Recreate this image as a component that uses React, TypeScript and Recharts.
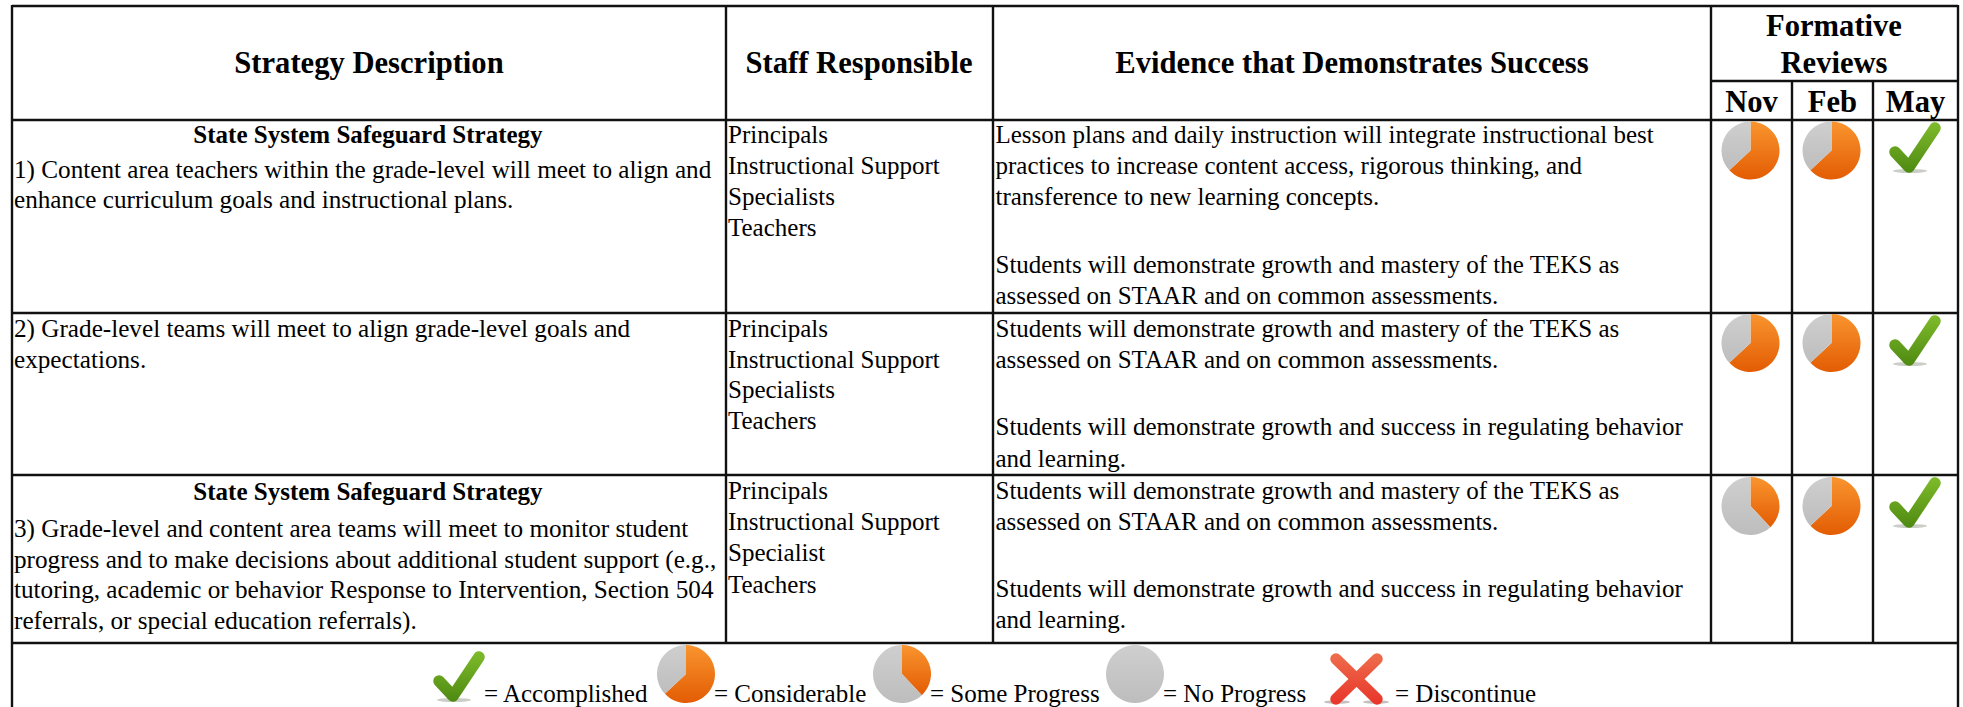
import React from "react";
import { PieChart, Pie, Cell } from "recharts";

const headerLabels = ["Strategy Description", "Staff Responsible", "Evidence that Demonstrates Success"];
const reviewHeaderLines = ["Formative", "Reviews"];
const reviewMonths = ["Nov", "Feb", "May"];
const safeguardTitle = "State System Safeguard Strategy";
const strategy1 = [
  "1) Content area teachers within the grade-level will meet to align and",
  "enhance curriculum goals and instructional plans.",
];
const strategy2 = ["2) Grade-level teams will meet to align grade-level goals and", "expectations."];
const strategy3 = [
  "3) Grade-level and content area teams will meet to monitor student",
  "progress and to make decisions about additional student support (e.g.,",
  "tutoring, academic or behavior Response to Intervention, Section 504",
  "referrals, or special education referrals).",
];
const staff12 = ["Principals", "Instructional Support", "Specialists", "Teachers"];
const staff3 = ["Principals", "Instructional Support", "Specialist", "Teachers"];
const evidence1 = [
  "Lesson plans and daily instruction will integrate instructional best",
  "practices to increase content access, rigorous thinking, and",
  "transference to new learning concepts.",
];
const evidenceMastery = ["Students will demonstrate growth and mastery of the TEKS as", "assessed on STAAR and on common assessments."];
const evidenceRegulating = ["Students will demonstrate growth and success in regulating behavior", "and learning."];

// percentage complete shown by each progress status
const progressByStatus: Record<string, number> = { considerable: 63, some: 38, none: 0 };
const novStatus = ["considerable", "considerable", "some"];
const febStatus = ["considerable", "considerable", "considerable"];
const mayStatus = ["accomplished", "accomplished", "accomplished"];
const legendLabels = ["= Accomplished", "= Considerable", "= Some Progress", "= No Progress", "= Discontinue"];

const FONT = "'Liberation Serif', 'Times New Roman', serif";
const W = 1963;
const H = 707;
const colX = [12, 726, 993, 1711, 1958];
const monthX = [1711, 1792, 1873, 1958];
const rowY = [6, 120, 313, 475, 643];
const pieXs = [1750.5, 1831.5];
const pieYs = [150.5, 343, 506];
const checkYs = [122, 315, 477];

const T = ({ x, y, s = 25, b = false, mid = false, children }: any) => (
  <text x={x} y={y} fontFamily={FONT} fontSize={s} fontWeight={b ? 700 : 400} fill="#000" textAnchor={mid ? "middle" : "start"}>
    {children}
  </text>
);

const Lines = ({ x, ys, lines, s = 25 }: { x: number; ys: number[]; lines: string[]; s?: number }) => (
  <>
    {lines.map((l, i) => (
      <T key={i} x={x} y={ys[i]} s={s}>
        {l}
      </T>
    ))}
  </>
);

const Check = ({ x, y }: { x: number; y: number }) => (
  <g transform={`translate(${x},${y})`}>
    <ellipse cx={21} cy={49} rx={17} ry={2} fill="#b9bdb4" opacity={0.75} />
    <path d="M6 30 L20 45 L46 6" fill="none" stroke="url(#checkGrad)" strokeWidth={11.5} strokeLinecap="round" strokeLinejoin="round" />
  </g>
);

const Cross = ({ x, y }: { x: number; y: number }) => (
  <g transform={`translate(${x},${y})`}>
    <ellipse cx={8} cy={48} rx={13} ry={1.8} fill="#b5b0ac" opacity={0.8} />
    <ellipse cx={47} cy={48} rx={13} ry={1.8} fill="#b5b0ac" opacity={0.8} />
    <path d="M7 5 L48 45 M48 5 L7 45" fill="none" stroke="url(#crossGrad)" strokeWidth={11.5} strokeLinecap="round" />
  </g>
);

const ProgressPie = (cx: number, cy: number, r: number, status: string, key: string) => {
  const done = progressByStatus[status];
  return (
    <Pie
      key={key}
      data={[
        { name: "done", value: done },
        { name: "left", value: 100 - done },
      ]}
      dataKey="value"
      cx={cx}
      cy={cy}
      innerRadius={0}
      outerRadius={r}
      startAngle={90}
      endAngle={-270}
      stroke="none"
      isAnimationActive={false}
      legendType="none"
    >
      <Cell fill="url(#orangeGrad)" />
      <Cell fill="url(#greyGrad)" />
    </Pie>
  );
};

export default function App() {
  const bodyY = { r1: [143, 174, 205, 236], r2: [337, 368, 398, 429], r3: [499, 530, 561, 593] };
  const pies: React.ReactNode[] = [];
  [novStatus, febStatus].forEach((col, c) =>
    col.forEach((st, r) => pies.push(ProgressPie(pieXs[c], pieYs[r], 29, st, `p${c}${r}`)))
  );
  pies.push(ProgressPie(686, 674, 29, "considerable", "lc"));
  pies.push(ProgressPie(902, 674, 29, "some", "ls"));
  pies.push(ProgressPie(1135, 674, 29, "none", "ln"));

  return (
    <div style={{ position: "absolute", left: 0, top: 0, width: W, height: H, overflow: "hidden", background: "#fff" }}>
      <svg width={W} height={H} style={{ position: "absolute", left: 0, top: 0 }}>
        <g stroke="#111" strokeWidth={2.4}>
          <line x1={colX[0]} x2={colX[4]} y1={rowY[0]} y2={rowY[0]} />
          {rowY.slice(1).map((y) => (
            <line key={y} x1={colX[0]} x2={colX[4]} y1={y} y2={y} />
          ))}
          <line x1={colX[3]} x2={colX[4]} y1={81} y2={81} />
          <line x1={colX[0]} x2={colX[0]} y1={5} y2={H} />
          <line x1={colX[4]} x2={colX[4]} y1={5} y2={H} />
          {colX.slice(1, 4).map((x) => (
            <line key={x} x1={x} x2={x} y1={rowY[0]} y2={rowY[4]} />
          ))}
          {monthX.slice(1, 3).map((x) => (
            <line key={x} x1={x} x2={x} y1={81} y2={rowY[4]} />
          ))}
        </g>
        <T x={369} y={73} s={30.6} b mid>{headerLabels[0]}</T>
        <T x={859} y={73} s={30.6} b mid>{headerLabels[1]}</T>
        <T x={1352} y={73} s={30.6} b mid>{headerLabels[2]}</T>
        <T x={1834} y={36} s={30.6} b mid>{reviewHeaderLines[0]}</T>
        <T x={1834} y={73} s={30.6} b mid>{reviewHeaderLines[1]}</T>
        {reviewMonths.map((m, i) => (
          <T key={m} x={(monthX[i] + monthX[i + 1]) / 2} y={112} s={30.6} b mid>{m}</T>
        ))}

        <T x={368} y={143} b mid>{safeguardTitle}</T>
        <Lines x={14} s={25.2} ys={[178, 208]} lines={strategy1} />
        <Lines x={14} s={25.2} ys={[337, 368]} lines={strategy2} />
        <T x={368} y={500} b mid>{safeguardTitle}</T>
        <Lines x={14} s={25.2} ys={[537, 568, 598, 629]} lines={strategy3} />

        <Lines x={728} ys={bodyY.r1} lines={staff12} />
        <Lines x={728} ys={bodyY.r2} lines={staff12} />
        <Lines x={728} ys={bodyY.r3} lines={staff3} />

        <Lines x={995.5} ys={[143, 174, 205]} lines={evidence1} />
        <Lines x={995.5} ys={[273, 304]} lines={evidenceMastery} />
        <Lines x={995.5} ys={[337, 368]} lines={evidenceMastery} />
        <Lines x={995.5} ys={[435, 467]} lines={evidenceRegulating} />
        <Lines x={995.5} ys={[499, 530]} lines={evidenceMastery} />
        <Lines x={995.5} ys={[597, 628]} lines={evidenceRegulating} />

        <T x={484} y={702}>{legendLabels[0]}</T>
        <T x={714} y={702}>{legendLabels[1]}</T>
        <T x={930} y={702}>{legendLabels[2]}</T>
        <T x={1163} y={702}>{legendLabels[3]}</T>
        <T x={1395} y={702}>{legendLabels[4]}</T>
      </svg>
      <div style={{ position: "absolute", left: 0, top: 0, filter: "blur(0.6px)" }}>
        <PieChart width={W} height={H} margin={{ top: 0, right: 0, bottom: 0, left: 0 }}>
          <defs>
            <linearGradient id="orangeGrad" x1="0" y1="0" x2="0" y2="1">
              <stop offset="0%" stopColor="#f9952f" />
              <stop offset="100%" stopColor="#e35c03" />
            </linearGradient>
            <linearGradient id="greyGrad" x1="0" y1="0" x2="0" y2="1">
              <stop offset="0%" stopColor="#cfcfcf" />
              <stop offset="100%" stopColor="#bdbdbd" />
            </linearGradient>
            <linearGradient id="checkGrad" gradientUnits="userSpaceOnUse" x1="0" y1="0" x2="0" y2="50">
              <stop offset="0%" stopColor="#7fbc2b" />
              <stop offset="100%" stopColor="#4f8a12" />
            </linearGradient>
            <linearGradient id="crossGrad" gradientUnits="userSpaceOnUse" x1="0" y1="0" x2="0" y2="50">
              <stop offset="0%" stopColor="#ee6d4c" />
              <stop offset="100%" stopColor="#e8352a" />
            </linearGradient>
          </defs>
          {pies}
        </PieChart>
      </div>
      <svg width={W} height={H} style={{ position: "absolute", left: 0, top: 0, pointerEvents: "none", filter: "blur(0.6px)" }}>
        {mayStatus.map((s, r) => (
          <Check key={r} x={1889} y={checkYs[r]} />
        ))}
        <Check x={433} y={651} />
        <Cross x={1329} y={654} />
      </svg>
    </div>
  );
}
